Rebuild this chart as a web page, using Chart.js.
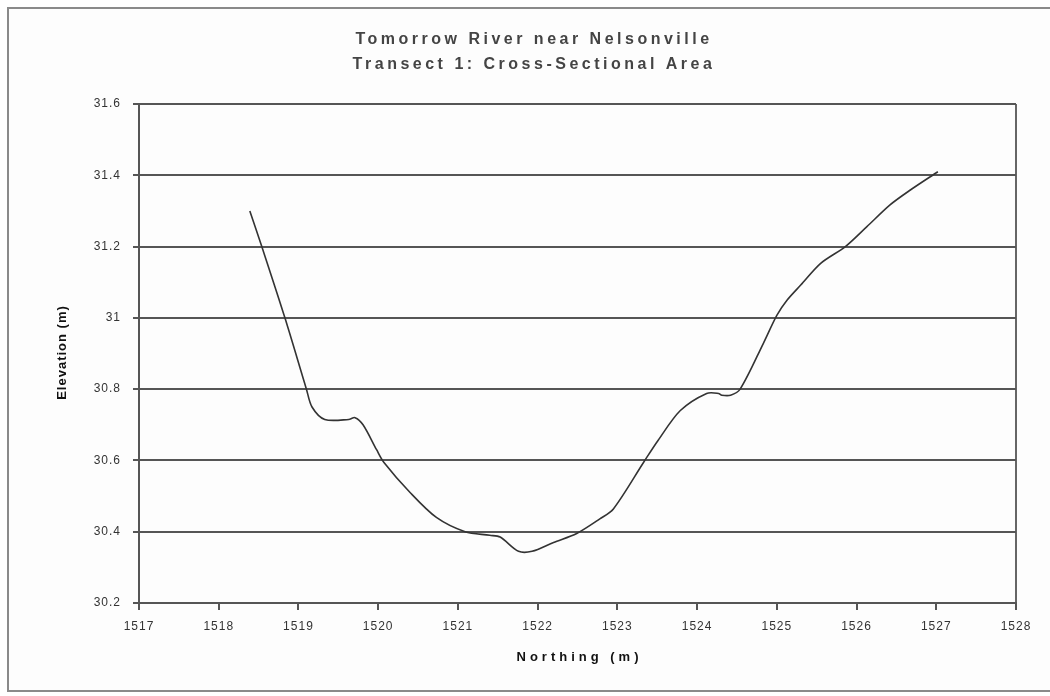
<!DOCTYPE html>
<html>
<head>
<meta charset="utf-8">
<script src="https://cdn.jsdelivr.net/npm/chart.js@4"></script>
<style>
  html, body { margin: 0; padding: 0; background: #fff; }
  #frame {
    position: absolute; left: 7px; top: 7px; width: 1100px; height: 681px;
    border: 2px solid #8a8a8a; background: #fdfdfd;
  }
  #wrap { position: absolute; left: 0; top: 0; width: 1050px; height: 696px; }
</style>
</head>
<body>
<div id="frame"></div>
<div id="wrap"><canvas id="chart"></canvas></div>
<script>
// Cross-section survey points
const northing = [1518.39, 1518.54, 1518.83, 1519.10, 1519.17, 1519.33, 1519.63, 1519.71, 1519.81, 1519.98,
  1520.07, 1520.40, 1520.73, 1521.09, 1521.40, 1521.53, 1521.76, 1521.93, 1522.20, 1522.49,
  1522.78, 1522.95, 1523.33, 1523.51, 1523.79, 1524.12, 1524.27, 1524.31, 1524.42, 1524.54,
  1524.83, 1525.00, 1525.13, 1525.30, 1525.55, 1525.86, 1526.13, 1526.42, 1526.67, 1527.02];
const elevation = [31.30, 31.20, 31.00, 30.80, 30.75, 30.715, 30.715, 30.72, 30.70, 30.63,
  30.595, 30.51, 30.44, 30.40, 30.39, 30.385, 30.345, 30.345, 30.37, 30.395,
  30.436, 30.464, 30.595, 30.656, 30.74, 30.788, 30.788, 30.783, 30.783, 30.80,
  30.928, 31.007, 31.05, 31.092, 31.153, 31.20, 31.256, 31.317, 31.358, 31.41];
const xTicks = [1517, 1518, 1519, 1520, 1521, 1522, 1523, 1524, 1525, 1526, 1527, 1528];
const yTicks = [30.2, 30.4, 30.6, 30.8, 31, 31.2, 31.4, 31.6];
const titleLines = ['Tomorrow River near Nelsonville', 'Transect 1: Cross-Sectional Area'];
const xTitle = 'Northing (m)';
const yTitle = 'Elevation (m)';

const points = northing.map((x, i) => ({ x: x, y: elevation[i] }));

// spaced-out text like the old Excel export (title + axis titles)
const spacedText = {
    id: 'spacedText',
    beforeDraw(chart) {
        chart.ctx.letterSpacing = '1px';
    },
    afterDraw(chart) {
        const c = chart.ctx;
        const area = chart.chartArea;
        c.save();
        c.textAlign = 'center';
        c.textBaseline = 'middle';
        c.fillStyle = '#444';
        c.letterSpacing = '3.5px';
        c.font = 'bold 16px "Liberation Sans", Arial, sans-serif';
        c.fillText(titleLines[0], 534, 40);
        c.fillText(titleLines[1], 534, 65);

        c.fillStyle = '#111';
        c.letterSpacing = '4px';
        c.font = 'bold 13px "Liberation Sans", Arial, sans-serif';
        c.fillText(xTitle, (area.left + area.right) / 2 + 2, 657);

        c.translate(62, (area.top + area.bottom) / 2);
        c.rotate(-Math.PI / 2);
        c.letterSpacing = '1px';
        c.font = 'bold 13px "Liberation Sans", Arial, sans-serif';
        c.fillText(yTitle, 1, 0);
        c.restore();
        c.letterSpacing = '0px';
    }
};

document.addEventListener('DOMContentLoaded', function() {
    const ctx = document.getElementById('chart').getContext('2d');
    new Chart(ctx, {
        type: 'scatter',
        data: {
            datasets: [{
                label: 'Elevation',
                data: points,
                showLine: true,
                borderColor: '#333333',
                borderWidth: 1.6,
                pointRadius: 0,
                tension: 0.3,
                fill: false
            }]
        },
        plugins: [spacedText],
        options: {
            responsive: true,
            maintainAspectRatio: false,
            animation: false,
            layout: { padding: { left: 0, right: 34, top: 104, bottom: 0 } },
            plugins: {
                legend: { display: false },
                tooltip: { enabled: false },
                title: { display: false }
            },
            scales: {
                x: {
                    type: 'linear',
                    min: xTicks[0],
                    max: xTicks[xTicks.length - 1],
                    afterBuildTicks: function(scale) {
                        scale.ticks = xTicks.map(v => ({ value: v }));
                    },
                    afterFit: function(scale) { scale.height = 93; },
                    border: { display: true, color: '#555', width: 2 },
                    grid: {
                        drawOnChartArea: true,
                        color: function(c) {
                            return c.index === xTicks.length - 1 ? '#666' : 'rgba(0,0,0,0)';
                        },
                        lineWidth: 2,
                        tickColor: '#555',
                        tickLength: 7
                    },
                    ticks: {
                        color: '#333',
                        font: { family: 'Liberation Sans', size: 12 },
                        padding: 9,
                        maxRotation: 0,
                        callback: function(value) { return String(value); }
                    },
                    title: { display: false }
                },
                y: {
                    type: 'linear',
                    min: yTicks[0],
                    max: yTicks[yTicks.length - 1],
                    afterBuildTicks: function(scale) {
                        scale.ticks = yTicks.map(v => ({ value: v }));
                    },
                    afterFit: function(scale) { scale.width = 139; },
                    border: { display: true, color: '#555', width: 2 },
                    grid: {
                        color: '#555',
                        lineWidth: 2,
                        tickColor: '#555',
                        tickLength: 6
                    },
                    ticks: {
                        color: '#333',
                        font: { family: 'Liberation Sans', size: 12 },
                        padding: 12,
                        callback: function(value) { return String(value); }
                    },
                    title: { display: false }
                }
            }
        }
    });
});
</script>
</body>
</html>
